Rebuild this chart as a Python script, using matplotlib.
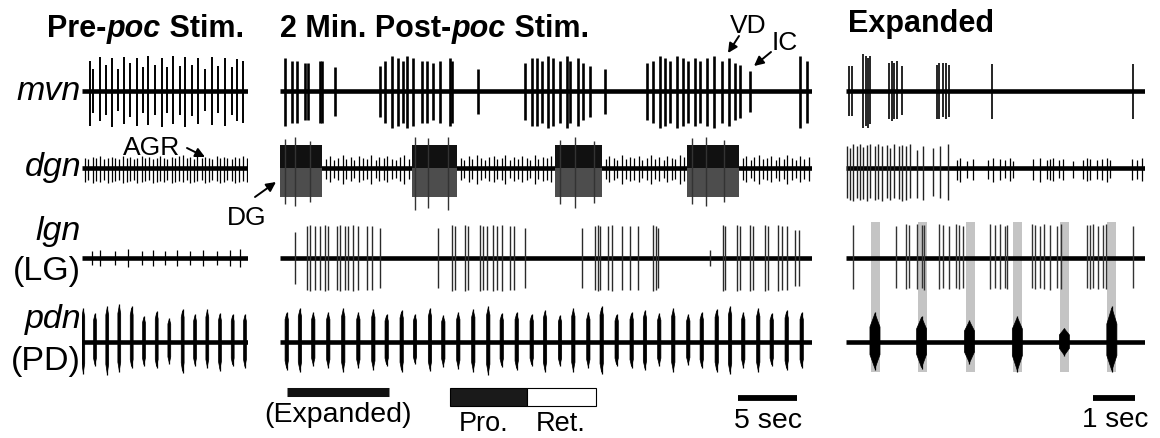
import matplotlib.pyplot as plt
from matplotlib.patches import Polygon, Rectangle

plt.rcParams['font.family'] = ['Liberation Sans', 'DejaVu Sans']

W, H = 1160, 438

# ---------------- data (times in s, amplitudes in trace units) ----------------
# Pre-poc panel
pre_mvn_t = [0.68, 0.96, 1.53, 2.03, 2.51, 3.08, 3.56, 4.07, 4.63, 5.20, 5.62, 6.19, 6.75,
             7.18, 7.74, 8.31, 8.73, 9.29, 9.86, 10.42, 10.99, 11.55, 12.12, 12.68, 13.16, 13.67]
pre_mvn_up = [30, 22, 34, 26, 33, 22, 34, 28, 33, 24, 35, 26, 33, 24, 35, 25, 34, 26, 33, 22, 34, 25, 33, 24, 32, 30]
pre_mvn_dn = [35, 22, 30, 24, 36, 20, 33, 26, 35, 22, 34, 24, 36, 22, 33, 24, 36, 25, 33, 20, 34, 22, 35, 24, 30, 32]

pre_dgn_t = [0.25, 0.53, 0.91, 1.19, 1.53, 1.86, 2.18, 2.52, 2.80, 3.16, 3.45, 3.79, 4.07, 4.41, 4.69,
             5.06, 5.34, 5.68, 5.99, 6.33, 6.61, 6.95, 7.23, 7.60, 7.88, 8.25, 8.53, 8.87, 9.15, 9.49,
             9.77, 10.14, 10.42, 10.76, 11.04, 11.42, 11.69, 12.03, 12.31, 12.69, 12.97, 13.33, 13.62, 13.96]
pre_dgn_up = [10, 9, 11, 10, 12, 9, 10, 11, 10, 9, 12, 10, 11, 9, 10, 12, 10, 11, 9, 10, 12, 10, 9, 11, 10,
              12, 13, 10, 11, 9, 12, 10, 11, 10, 9, 12, 10, 11, 10, 9, 11, 10, 12, 10]
pre_dgn_dn = [14, 12, 15, 13, 14, 12, 15, 14, 13, 12, 15, 14, 13, 12, 15, 14, 13, 12, 15, 14, 13, 14, 12, 15, 14,
              13, 14, 12, 15, 14, 13, 12, 15, 14, 12, 13, 15, 14, 12, 13, 15, 14, 13, 14]

pre_lgn_t = [0.82, 1.53, 2.80, 3.92, 5.06, 6.04, 7.03, 8.03, 9.15, 10.28, 11.42, 12.54, 13.39]
pre_lgn_amp = [7, 8, 7, 9, 7, 8, 7, 8, 7, 8, 7, 8, 9]

pre_pdn_t = [0.11, 1.10, 2.14, 3.16, 4.21, 5.25, 6.33, 7.40, 8.53, 9.58, 10.62, 11.69, 12.77, 13.81]
pre_pdn_up = [34, 29, 36, 38, 36, 26, 31, 24, 33, 28, 33, 29, 28, 28]
pre_pdn_dn = [32, 24, 33, 30, 26, 24, 26, 22, 31, 24, 26, 29, 24, 26]

# 2 min post-poc panel
post_mvn_t = [0.42, 0.99, 1.41, 2.12, 2.40, 3.39, 3.53, 4.66,
              8.47, 8.90, 9.46, 10.03, 10.45, 10.73, 11.30, 12.00, 12.43, 12.99, 13.56, 14.41, 14.55, 16.81,
              20.76, 21.33, 21.75, 22.17, 22.74, 23.16, 23.73, 24.30, 24.58, 25.28, 25.71, 26.27, 27.54,
              31.10, 31.61, 32.20, 32.63, 33.05, 33.64, 34.15, 34.58, 35.17, 35.59, 36.19, 36.78, 37.46,
              38.05, 38.56, 38.98, 39.83, 44.07, 44.66]
post_mvn_amp = [33, 30, 30, 28, 28, 30, 30, 24,
                25, 30, 35, 33, 30, 35, 33, 30, 30, 28, 30, 33, 30, 22,
                28, 33, 33, 30, 35, 33, 30, 35, 30, 33, 28, 25, 22,
                28, 30, 35, 33, 30, 35, 33, 30, 33, 30, 33, 35, 30,
                33, 28, 26, 20, 35, 30]

post_dg_start = [0.0, 11.2, 23.3, 34.5]
post_dg_end = [3.6, 15.0, 27.3, 38.9]
post_dg_tall_t = [0.4, 1.3, 2.5, 11.4, 12.5, 14.2, 23.7, 25.0, 26.6, 34.9, 36.1, 37.6]
post_dg_tall_up = [29, 31, 27, 31, 30, 31, 28, 31, 27, 30, 31, 28]
post_dg_tall_dn = [36, 38, 34, 42, 40, 42, 36, 40, 35, 36, 38, 34]
post_dgn_t = [3.9, 4.2, 4.6, 4.9, 5.3, 5.6, 6.0, 6.3, 6.7, 7.0, 7.4, 7.7, 8.1, 8.4, 8.8, 9.1, 9.5, 9.8, 10.2, 10.5, 10.9,
              15.3, 15.6, 16.0, 16.3, 16.7, 17.0, 17.4, 17.7, 18.1, 18.4, 18.8, 19.1, 19.5, 19.8, 20.2, 20.5, 20.9,
              21.2, 21.6, 21.9, 22.3, 22.6, 23.0,
              27.6, 27.9, 28.3, 28.6, 29.0, 29.3, 29.7, 30.0, 30.4, 30.7, 31.1, 31.4, 31.8, 32.1, 32.5, 32.8, 33.2,
              33.5, 33.9, 34.2,
              39.2, 39.5, 39.9, 40.2, 40.6, 40.9, 41.3, 41.6, 42.0, 42.3, 42.7, 43.0, 43.4, 43.7, 44.1, 44.4, 44.8]
post_dgn_amp = [9, 12, 8, 10, 13, 9, 11, 8, 12, 10, 9, 13, 8, 11, 10, 12, 9, 8, 11, 13, 9,
                10, 8, 12, 9, 13, 10, 8, 11, 12, 9, 10, 13, 8, 11, 9, 12, 10, 8, 13, 9, 11, 10, 12,
                9, 12, 10, 8, 13, 9, 11, 10, 12, 8, 10, 13, 9, 11, 8, 12, 10, 9, 13, 11,
                10, 12, 8, 11, 13, 9, 10, 12, 8, 11, 9, 13, 10, 8, 12, 9, 11]

post_lgn_t = [1.27, 2.29, 2.54, 2.97, 3.39, 3.81, 4.07, 4.83, 5.08, 5.51, 5.76, 6.19, 6.61, 7.37, 7.80, 8.47,
              13.39, 14.58, 14.83, 15.68, 15.93, 16.95, 17.20, 17.54, 18.05, 18.39, 18.81, 19.49, 19.83, 20.76,
              25.59, 26.69, 26.95, 27.12, 27.80, 28.14, 28.98, 29.66, 30.34, 31.61, 31.86, 32.03,
              36.44, 37.54, 37.71, 38.73, 38.98, 39.83, 40.08, 41.10, 41.36, 42.20, 42.54, 42.97, 43.64, 43.98]
post_lgn_amp = [26, 32, 33, 32, 32, 33, 32, 32, 33, 32, 32, 33, 32, 32, 32, 30,
                30, 33, 32, 33, 32, 33, 32, 32, 33, 32, 33, 32, 32, 30,
                30, 32, 33, 32, 32, 33, 32, 32, 32, 33, 32, 30,
                8, 33, 32, 33, 32, 33, 32, 33, 32, 33, 32, 32, 28, 28]

post_pdn_t = [0.57, 1.69, 2.82, 4.09, 5.36, 6.64, 7.91, 9.04, 10.31, 11.44, 12.71, 13.84, 15.11, 16.38,
              17.65, 18.79, 20.06, 21.33, 22.46, 23.73, 24.86, 26.13, 27.26, 28.53, 29.80, 30.93, 32.14,
              33.33, 34.60, 35.74, 37.01, 38.14, 39.26, 40.53, 41.67, 42.94, 44.21]
post_pdn_up = [30, 34, 30, 30, 34, 30, 33, 28, 32, 28, 34, 27, 30, 33, 36, 29, 30, 28, 32, 27,
               34, 30, 36, 28, 30, 32, 29, 34, 28, 30, 33, 36, 30, 34, 29, 32, 30]
post_pdn_dn = [28, 30, 24, 26, 30, 26, 28, 24, 30, 22, 29, 25, 27, 30, 33, 25, 28, 24, 30, 24,
               30, 26, 32, 24, 26, 28, 24, 30, 23, 26, 30, 32, 26, 30, 24, 28, 26]

# Expanded panel
exp_mvn_t = [0.06, 0.14, 0.41, 0.48, 0.53, 0.57, 1.02, 1.09, 1.14, 1.22, 1.33, 2.17, 2.22, 2.30, 2.38, 2.46, 3.47, 6.84]
exp_mvn_up = [25, 25, 37, 35, 33, 35, 28, 30, 28, 30, 25, 26, 28, 28, 28, 26, 27, 27]
exp_mvn_dn = [25, 25, 37, 35, 37, 33, 28, 30, 28, 28, 24, 28, 28, 26, 28, 26, 28, 28]

exp_dgn_t = [0.02, 0.10, 0.17, 0.25, 0.33, 0.41, 0.49, 0.57, 0.69, 0.77, 0.85, 0.97, 1.05, 1.14, 1.25,
             1.33, 1.43, 1.52, 1.68, 1.84, 2.08, 2.24, 2.44]
exp_dgn_up = [22, 20, 24, 22, 24, 21, 23, 24, 22, 24, 22, 23, 20, 24, 22, 23, 22, 24, 18, 22, 20, 22, 24]
exp_dgn_dn = [30, 32, 33, 30, 32, 31, 33, 30, 32, 31, 33, 30, 32, 30, 31, 33, 32, 30, 30, 32, 28, 30, 32]
exp_dgn_small_t = [2.64, 2.71, 2.87, 3.03, 3.39, 3.51, 3.67, 3.79, 3.90, 3.98, 4.46, 4.62, 4.78, 4.86,
                   4.94, 5.06, 5.17, 5.41, 5.65, 5.73, 5.81, 5.97, 6.09, 6.21, 6.29, 6.80, 6.92, 7.04]
exp_dgn_small_up = [8, 10, 7, 9, 8, 10, 9, 8, 10, 7, 9, 10, 8, 9, 10, 8, 9, 7, 8, 10, 9, 8, 9, 10, 8, 9, 8, 10]
exp_dgn_small_dn = [12, 14, 10, 12, 11, 14, 12, 10, 13, 10, 12, 14, 11, 12, 13, 10, 12, 10, 11, 13, 12, 11,
                    12, 14, 10, 12, 11, 13]

exp_lgn_t = [0.17, 1.19, 1.43, 1.51, 1.68, 1.80, 1.86, 2.22, 2.32, 2.46, 2.62, 2.70, 2.78, 3.43, 3.55, 3.67,
             3.79, 3.83, 4.42, 4.50, 4.62, 4.71, 4.86, 5.03, 5.11, 5.73, 5.81, 5.89, 6.01, 6.11, 6.19, 6.84]
exp_lgn_up = [33, 32, 34, 33, 34, 33, 33, 34, 33, 32, 34, 33, 32, 34, 33, 34, 32, 33, 34, 33, 32, 34, 33, 32,
              34, 33, 33, 34, 32, 33, 34, 32]
exp_lgn_dn = [31, 30, 31, 30, 31, 30, 32, 31, 30, 31, 30, 31, 30, 31, 30, 31, 30, 31, 30, 31, 30, 31, 32, 30,
              31, 30, 31, 30, 31, 30, 31, 30]

exp_pdn_t = [0.69, 1.80, 2.94, 4.08, 5.20, 6.33]
exp_pdn_up = [30, 26, 22, 26, 14, 36]
exp_pdn_dn = [28, 27, 22, 30, 14, 30]
exp_shade_t = [0.60, 1.71, 2.86, 3.98, 5.10, 6.21]

# ---------------- layout ----------------
rows = {'mvn': 91, 'dgn': 168, 'lgn': 258, 'pdn': 342}
panels = {'pre': (82, 248, 11.8), 'post': (280, 812, 11.8), 'exp': (846, 1145, 42.0)}

fig = plt.figure(figsize=(W / 100, H / 100), dpi=100)


def panel_axes(name):
    x0, x1, pps = panels[name]
    ax = fig.add_axes([x0 / W, 0, (x1 - x0) / W, 1])
    ax.set_xlim(0, (x1 - x0) / pps)
    ax.set_ylim(H, 0)
    ax.axis('off')
    ax.patch.set_alpha(0)
    for b in rows.values():
        ax.plot([0, (x1 - x0) / pps], [b, b], color='k', lw=3.3, solid_capstyle='butt', zorder=2)
    return ax


def spikes(ax, t, up, dn, base, lw=1.0, color='k'):
    ax.vlines(t, [base - u for u in up], [base + d for d in dn], color=color, lw=lw, zorder=3)


def bursts(ax, t, up, dn, base, hw, core=0.75):
    # spindle-shaped PD bursts: thick core with thin spike tips
    for ti, u, d in zip(t, up, dn):
        pts = [(ti, base - u * 0.95), (ti + hw, base - u * core), (ti + hw, base + d * core * 0.9),
               (ti, base + d * 0.95), (ti - hw, base + d * core * 0.9), (ti - hw, base - u * core)]
        ax.add_patch(Polygon(pts, closed=True, facecolor='k', edgecolor='k', lw=0.5, zorder=3))
        ax.vlines(ti, base - u, base + d, color='k', lw=0.9, zorder=3)


# pre panel
ax_pre = panel_axes('pre')
spikes(ax_pre, pre_mvn_t, pre_mvn_up, pre_mvn_dn, rows['mvn'], lw=1.4)
spikes(ax_pre, pre_dgn_t, pre_dgn_up, pre_dgn_dn, rows['dgn'], lw=0.9)
spikes(ax_pre, pre_lgn_t, pre_lgn_amp, pre_lgn_amp, rows['lgn'], lw=0.9)
bursts(ax_pre, pre_pdn_t, pre_pdn_up, pre_pdn_dn, rows['pdn'], 0.12)

# post panel
ax_post = panel_axes('post')
spikes(ax_post, post_mvn_t, post_mvn_amp, [a * 1.05 for a in post_mvn_amp], rows['mvn'], lw=1.9)
for t0, t1 in zip(post_dg_start, post_dg_end):
    b = rows['dgn']
    ax_post.fill_between([t0, t1], b - 23, b, color='#111111', lw=0, zorder=3)
    ax_post.fill_between([t0, t1], b, b + 29, color='#4d4d4d', lw=0, zorder=3)
spikes(ax_post, post_dg_tall_t, post_dg_tall_up, post_dg_tall_dn, rows['dgn'], lw=1.0, color='#333333')
spikes(ax_post, post_dgn_t, post_dgn_amp, [a * 1.2 for a in post_dgn_amp], rows['dgn'], lw=0.9)
spikes(ax_post, post_lgn_t, post_lgn_amp, post_lgn_amp, rows['lgn'], lw=1.0, color='#2a2a2a')
bursts(ax_post, post_pdn_t, post_pdn_up, post_pdn_dn, rows['pdn'], 0.14)

# expanded panel
ax_exp = panel_axes('exp')
for t0 in exp_shade_t:
    ax_exp.add_patch(Rectangle((t0, 222), 0.21, 150, facecolor='#c4c4c4', edgecolor='none', zorder=1))
spikes(ax_exp, exp_mvn_t, exp_mvn_up, exp_mvn_dn, rows['mvn'], lw=1.2)
spikes(ax_exp, exp_dgn_t, exp_dgn_up, exp_dgn_dn, rows['dgn'], lw=1.0, color='#222222')
spikes(ax_exp, exp_dgn_small_t, exp_dgn_small_up, exp_dgn_small_dn, rows['dgn'], lw=0.9)
spikes(ax_exp, exp_lgn_t, exp_lgn_up, exp_lgn_dn, rows['lgn'], lw=1.0, color='#333333')
bursts(ax_exp, exp_pdn_t, exp_pdn_up, exp_pdn_dn, rows['pdn'], 0.12, core=0.5)

# scale bars and phase key
ax_post.plot([0.59, 9.24], [392, 392], color='#111111', lw=6.5, solid_capstyle='butt')
ax_post.plot([38.8, 43.8], [398, 398], color='k', lw=4.2, solid_capstyle='butt')
ax_exp.plot([5.88, 6.88], [398, 398], color='k', lw=4.2, solid_capstyle='butt')
ax_post.add_patch(Rectangle((14.41, 388), 6.52, 18, facecolor='#1a1a1a', edgecolor='k', lw=0.8))
ax_post.add_patch(Rectangle((20.93, 388), 5.85, 18, facecolor='white', edgecolor='k', lw=0.8))

# ---------------- text ----------------
ax_t = fig.add_axes([0, 0, 1, 1])
ax_t.set_xlim(0, W)
ax_t.set_ylim(H, 0)
ax_t.axis('off')
ax_t.patch.set_alpha(0)
renderer = fig.canvas.get_renderer()


def rich(x, y, parts, size):
    for s, style in parts:
        txt = ax_t.text(x, y, s, fontsize=size, fontweight='bold', fontstyle=style, va='baseline', ha='left')
        x += txt.get_window_extent(renderer=renderer).width


rich(47, 37, [('Pre-', 'normal'), ('poc', 'italic'), (' Stim.', 'normal')], 22)
rich(280, 37, [('2 Min. Post-', 'normal'), ('poc', 'italic'), (' Stim.', 'normal')], 22)
ax_t.text(848, 32, 'Expanded', fontsize=22, fontweight='bold', va='baseline')

row_labels = [('mvn', 100, 'italic'), ('dgn', 176, 'italic'), ('lgn', 240, 'italic'),
              ('(LG)', 280, 'normal'), ('pdn', 328, 'italic'), ('(PD)', 370, 'normal')]
for s, y, style in row_labels:
    ax_t.text(81, y, s, fontsize=24.5, fontstyle=style, ha='right', va='baseline')

arrow = dict(arrowstyle='-|>', color='k', lw=1.4, mutation_scale=14, shrinkA=0, shrinkB=0)
ax_t.text(123, 155, 'AGR', fontsize=19, va='baseline')
ax_t.annotate('', xy=(205, 157), xytext=(187, 148), arrowprops=arrow)
ax_t.text(227, 225, 'DG', fontsize=19, va='baseline')
ax_t.annotate('', xy=(276, 182), xytext=(255, 197), arrowprops=arrow)
ax_t.text(730, 33, 'VD', fontsize=19, va='baseline')
ax_t.annotate('', xy=(728, 53), xytext=(739, 36), arrowprops=arrow)
ax_t.text(772, 50, 'IC', fontsize=19, va='baseline')
ax_t.annotate('', xy=(754, 66), xytext=(771, 52), arrowprops=arrow)

ax_t.text(338, 422, '(Expanded)', fontsize=20.5, ha='center', va='baseline')
ax_t.text(484, 431, 'Pro.', fontsize=19.5, ha='center', va='baseline')
ax_t.text(561, 431, 'Ret.', fontsize=19.5, ha='center', va='baseline')
ax_t.text(768, 428, '5 sec', fontsize=20.5, ha='center', va='baseline')
ax_t.text(1115, 427, '1 sec', fontsize=20, ha='center', va='baseline')

fig.savefig('out.png', dpi=100)
